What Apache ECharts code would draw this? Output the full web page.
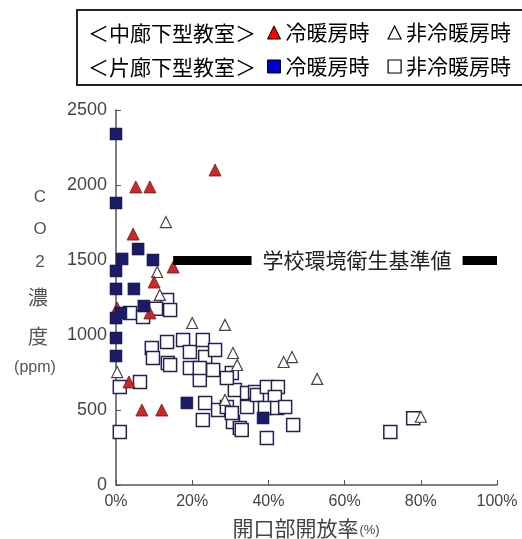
<!DOCTYPE html>
<html><head><meta charset="utf-8">
<script src="https://cdn.jsdelivr.net/npm/echarts@6/dist/echarts.min.js"></script>
<style>html,body{margin:0;padding:0;background:#fff}#c{width:522px;height:539px}</style>
</head><body><div id="c"></div>
<script>
// ---- data ----
const xTickValues = [0, 20, 40, 60, 80, 100];
const xTickLabels = ['0%', '20%', '40%', '60%', '80%', '100%'];
const yTickValues = [0, 500, 1000, 1500, 2000, 2500];
const yTickLabels = ['0', '500', '1000', '1500', '2000', '2500'];

const seriesNames = ['中廊下型教室 冷暖房時', '中廊下型教室 非冷暖房時', '片廊下型教室 冷暖房時', '片廊下型教室 非冷暖房時'];

// 中廊下型教室 冷暖房時 (red triangles) [opening %, CO2 ppm]
const centralHvac = [
  [5.2, 1987], [8.9, 1987], [26, 2100], [4.5, 1673], [15, 1453], [10, 1353],
  [0.3, 1180], [8.9, 1147], [3.4, 687], [6.8, 500], [12, 500]
];
// 中廊下型教室 非冷暖房時 (open triangles)
const centralNoHvac = [
  [13.1, 1753], [10.8, 1420], [11.5, 1267], [20, 1080], [28.6, 1067], [30.7, 880],
  [31.8, 800], [28.6, 567], [44, 820], [46.2, 853], [52.8, 707], [0.3, 753], [80, 455]
];
// 片廊下型教室 冷暖房時 (filled squares)
const sideHvac = [
  [0, 2340], [0, 1880], [5.8, 1573], [1.6, 1507], [9.7, 1500], [0, 1427],
  [0, 1307], [4.7, 1307], [7.3, 1193], [1.3, 1147], [0, 1113], [0, 980],
  [0, 860], [18.6, 547], [38.6, 447]
];
// 片廊下型教室 非冷暖房時 (open squares)
const sideNoHvac = [
  [13.4, 1233], [14.2, 1167], [10.5, 1175], [3.7, 1147], [7.1, 1120],
  [9.4, 913], [13.4, 953], [9.7, 847], [13.6, 813], [17.6, 967], [19.4, 887],
  [14.2, 800], [19.4, 780], [22.8, 967], [23.4, 853], [26, 900], [22, 700],
  [22, 780], [25.5, 767], [23.4, 547], [22.8, 433], [26.8, 500], [30.7, 420],
  [32.5, 380], [29.1, 520], [31.2, 633], [34.4, 520], [34.4, 613], [36.5, 620],
  [30.4, 747], [30.4, 480], [6.3, 687], [1, 653], [1, 353], [29.1, 713], [37, 600],
  [39.6, 653], [42.5, 653], [41.7, 587], [39.1, 513], [42.3, 513], [44.4, 520],
  [46.5, 400], [39.6, 313], [33, 367], [72, 353], [78, 445]
];

// 学校環境衛生基準値
const thresholdLabel = '学校環境衛生基準値';
const thresholdValue = 1500;
const thresholdRange = [15, 100];

const legendRowLabels = ['＜中廊下型教室＞', '＜片廊下型教室＞'];
const yTitleParts = ['C', 'O', '2', '濃', '度', '(ppm)'];
const xTitle = '開口部開放率';
const xTitleUnit = '(%)';

// ---- chart ----
const CJK = 'Noto Sans CJK JP';
const LAT = 'Liberation Sans';
const chart = echarts.init(document.getElementById('c'), null, {renderer: 'canvas'});

const legendText = {fontSize: 21, color: '#000', fontFamily: CJK};
const shortName = n => n.split(' ')[1];

const yTitlePos = [[40, 197], [40, 229], [40, 262], [38, 297], [38, 336], [35, 368]];
const yTitleSizes = [17, 17, 17, 20, 20, 16];
const yTitleGraphics = yTitleParts.map((t, i) => ({
  type: 'text', x: yTitlePos[i][0], y: yTitlePos[i][1], silent: true,
  style: {text: t, fill: '#555', align: 'center', verticalAlign: 'middle',
    fontSize: yTitleSizes[i], fontFamily: (i === 3 || i === 4) ? CJK : LAT}
}));

const option = {
  animation: false,
  backgroundColor: '#fff',
  grid: {left: 116, right: 25, top: 110, bottom: 54, containLabel: false},
  xAxis: {
    type: 'value', min: 0, max: 100, interval: 20,
    axisLine: {show: true, lineStyle: {color: '#555', width: 1.5}},
    axisTick: {show: true, inside: true, length: 5, lineStyle: {color: '#555'}},
    splitLine: {show: false},
    axisLabel: {margin: 9, fontSize: 16, color: '#444', fontFamily: LAT,
      formatter: v => xTickLabels[xTickValues.indexOf(v)]}
  },
  yAxis: {
    type: 'value', min: 0, max: 2500, interval: 500,
    axisLine: {show: true, lineStyle: {color: '#555', width: 1.5}},
    axisTick: {show: true, inside: true, length: 5, lineStyle: {color: '#555'}},
    splitLine: {show: false},
    axisLabel: {margin: 9, fontSize: 18, color: '#444', fontFamily: LAT,
      formatter: v => yTickLabels[yTickValues.indexOf(v)]}
  },
  legend: [
    {
      orient: 'horizontal', left: 267, top: 22, padding: 0, itemGap: 18,
      itemWidth: 13, itemHeight: 13, textStyle: legendText, selectedMode: false,
      formatter: shortName,
      data: [
        {name: seriesNames[0], icon: 'triangle', itemStyle: {color: '#ff0000', borderColor: '#000', borderWidth: 1}},
        {name: seriesNames[1], icon: 'triangle', itemStyle: {color: '#fff', borderColor: '#000', borderWidth: 1.2}}
      ]
    },
    {
      orient: 'horizontal', left: 267, top: 56, padding: 0, itemGap: 18,
      itemWidth: 13, itemHeight: 13, textStyle: legendText, selectedMode: false,
      formatter: shortName,
      data: [
        {name: seriesNames[2], icon: 'rect', itemStyle: {color: '#0000c8', borderColor: '#000', borderWidth: 1}},
        {name: seriesNames[3], icon: 'rect', itemStyle: {color: '#fff', borderColor: '#000', borderWidth: 1.2}}
      ]
    }
  ],
  graphic: [
    {type: 'rect', shape: {x: 77, y: 10, width: 460, height: 75}, silent: true,
      style: {fill: 'none', stroke: '#222', lineWidth: 2}},
    {type: 'text', x: 88, y: 33, silent: true,
      style: {text: legendRowLabels[0], fontSize: 21, fontFamily: CJK, fill: '#000', verticalAlign: 'middle'}},
    {type: 'text', x: 88, y: 67, silent: true,
      style: {text: legendRowLabels[1], fontSize: 21, fontFamily: CJK, fill: '#000', verticalAlign: 'middle'}},
    {type: 'text', x: 306, y: 528, silent: true,
      style: {text: '{a|' + xTitle + '}{b|' + xTitleUnit + '}', align: 'center', verticalAlign: 'middle',
        rich: {a: {fontSize: 21, fontFamily: CJK, fill: '#444', color: '#444'},
               b: {fontSize: 13, fontFamily: LAT, fill: '#444', color: '#444', padding: [5, 0, 0, 1]}}}},
    ...yTitleGraphics
  ],
  series: [
    {
      name: seriesNames[0], type: 'scatter', z: 4, symbol: 'triangle', symbolSize: 12,
      itemStyle: {color: '#c62a2a', borderColor: '#7a1414', borderWidth: 0.8, opacity: 1},
      data: centralHvac
    },
    {
      name: seriesNames[1], type: 'scatter', z: 3, symbol: 'triangle', symbolSize: 11,
      itemStyle: {color: '#fff', borderColor: '#444', borderWidth: 1.2, opacity: 1},
      data: centralNoHvac,
      markLine: {
        silent: true, symbol: 'none', animation: false,
        lineStyle: {color: '#000', width: 9, type: 'solid'},
        label: {
          show: true, position: 'insideMiddle',
          formatter: '{s|\u00a0}{t|' + thresholdLabel + '}',
          rich: {
            s: {width: 44},
            t: {backgroundColor: '#fff', padding: [3, 11], fontSize: 21, color: '#222', fontFamily: CJK}
          }
        },
        data: [[{coord: [thresholdRange[0], thresholdValue]}, {coord: [thresholdRange[1], thresholdValue]}]]
      }
    },
    {
      name: seriesNames[2], type: 'scatter', z: 5, symbol: 'rect', symbolSize: 12,
      itemStyle: {color: '#1c1c66', borderColor: '#101040', borderWidth: 0.5, opacity: 1},
      data: sideHvac
    },
    {
      name: seriesNames[3], type: 'scatter', z: 2, symbol: 'rect', symbolSize: 13,
      itemStyle: {color: '#fff', borderColor: '#23234f', borderWidth: 1.5, opacity: 1},
      data: sideNoHvac
    }
  ]
};
chart.setOption(option);
</script>
</body></html>
